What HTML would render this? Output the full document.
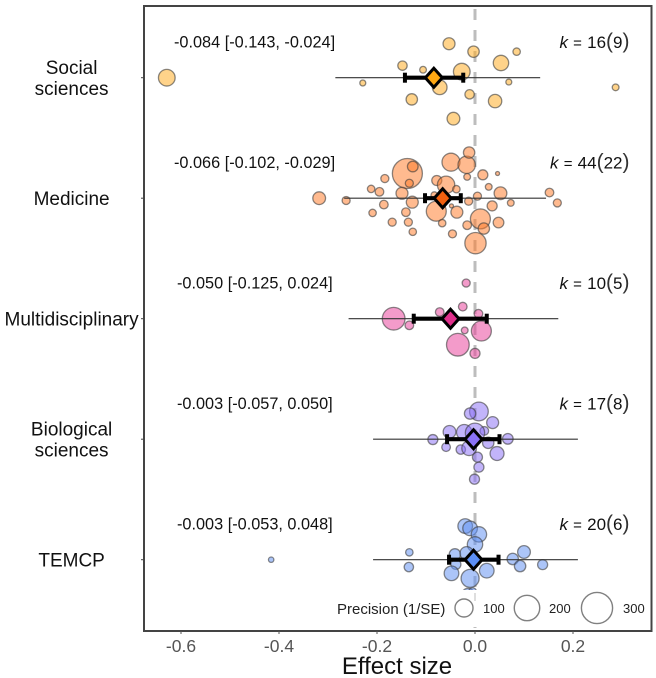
<!DOCTYPE html>
<html>
<head>
<meta charset="utf-8">
<style>
  html, body { margin: 0; padding: 0; background: #fff; }
  svg { display: block; font-family: "Liberation Sans", sans-serif; filter: blur(0.35px); }
</style>
</head>
<body>
<svg id="chart" xmlns="http://www.w3.org/2000/svg" width="656" height="678" viewBox="0 0 656 678"></svg>
<script>
const categories = ["Social sciences", "Medicine", "Multidisciplinary", "Biological sciences", "TEMCP"];
const categoryLines = [["Social", "sciences"], ["Medicine"], ["Multidisciplinary"], ["Biological", "sciences"], ["TEMCP"]];
const means = [-0.084, -0.066, -0.050, -0.003, -0.003];
const ciLow = [-0.143, -0.102, -0.125, -0.057, -0.053];
const ciHigh = [-0.024, -0.029, 0.024, 0.050, 0.048];
const piLow = [-0.285, -0.267, -0.258, -0.208, -0.208];
const piHigh = [0.133, 0.145, 0.170, 0.210, 0.210];
const kEffects = [16, 44, 10, 17, 20];
const kStudies = [9, 22, 5, 8, 6];
const ciLabels = ["-0.084 [-0.143, -0.024]", "-0.066 [-0.102, -0.029]", "-0.050 [-0.125, 0.024]", "-0.003 [-0.057, 0.050]", "-0.003 [-0.053, 0.048]"];
const xTicks = [-0.6, -0.4, -0.2, 0.0, 0.2];
const legendPrecision = [100, 200, 300];

const socialEffects = [-0.629,-0.053,-0.003,0.085,0.053,-0.148,-0.106,-0.027,-0.229,0.069,0.287,-0.072,-0.011,-0.129,0.041,-0.044];
const socialSwarm = [0,-0.282,-0.216,-0.216,-0.122,-0.100,-0.066,-0.050,0.044,0.036,0.080,0.080,0.138,0.180,0.194,0.340];
const socialPrecision = [86,44,40,17,73,27,14,86,11,11,14,66,27,40,55,50];

const medicineEffects = [-0.318,-0.263,-0.212,-0.195,-0.184,-0.138,-0.127,-0.134,-0.149,-0.128,-0.186,-0.209,-0.141,-0.169,-0.136,-0.127,-0.078,-0.059,-0.038,-0.083,-0.079,-0.048,-0.037,-0.067,-0.046,-0.049,-0.017,-0.012,-0.016,0.016,0.046,0.028,0.052,0.005,-0.013,0.035,0.073,0.152,0.168,0.011,-0.016,0.018,0.048,0.001];
const medicineSwarm = [0,0.019,-0.077,-0.053,-0.163,-0.205,-0.263,-0.124,-0.041,0.033,0.053,0.122,0.116,0.199,0.199,0.279,-0.147,-0.111,-0.075,-0.025,0.108,0.064,0.116,0.207,0.296,-0.299,-0.277,-0.379,-0.177,-0.194,-0.205,-0.094,-0.041,-0.017,0.025,0.064,0.039,-0.047,0.039,0.172,0.224,0.252,0.202,0.373];
const medicinePrecision = [50,20,17,23,20,278,35,20,44,44,23,17,23,20,20,17,31,93,17,14,123,5,44,17,20,100,93,40,14,31,5,14,50,20,20,31,14,23,20,123,23,40,35,140];

const multiEffects = [-0.018,-0.025,-0.072,0.007,-0.166,-0.134,-0.021,0.013,-0.035,0.000];
const multiSwarm = [-0.296,-0.100,-0.055,-0.041,0,0.055,0.097,0.102,0.216,0.288];
const multiPrecision = [20,23,23,23,159,23,14,123,159,31];

const bioEffects = [0.008,-0.010,0.036,-0.052,-0.022,0.019,0,-0.086,0.067,-0.059,-0.029,-0.012,0.027,0.045,0.005,0.008,-0.001];
const bioSwarm = [-0.230,-0.213,-0.138,-0.061,-0.058,-0.069,-0.053,0.003,-0.003,0.066,0.086,0.075,0.030,0.119,0.149,0.232,0.332];
const bioPrecision = [108,40,44,50,73,23,115,31,35,23,27,66,40,60,31,31,31];

const temcpEffects = [-0.416,-0.134,-0.135,-0.020,-0.010,0.008,0,-0.041,-0.039,-0.048,-0.017,-0.010,0.024,0.077,0.100,0.092,0.138,-0.014,-0.005,-0.002];
const temcpSwarm = [0,-0.061,0.061,-0.279,-0.260,-0.210,-0.127,-0.044,0.039,0.113,-0.053,0.155,0.091,-0.006,-0.064,0.053,0.041,0.293,0.266,0.313];
const temcpPrecision = [9,17,27,66,66,73,73,40,31,66,55,100,66,40,50,40,31,55,20,31];

const seriesEffects = [socialEffects, medicineEffects, multiEffects, bioEffects, temcpEffects];
const seriesSwarm = [socialSwarm, medicineSwarm, multiSwarm, bioSwarm, temcpSwarm];
const seriesPrecision = [socialPrecision, medicinePrecision, multiPrecision, bioPrecision, temcpPrecision];

const pointColors = ["#ffaa1e", "#ff7a28", "#e8409a", "#8a70f5", "#5f8ff2"];
const diamondColors = ["#ffa812", "#f2600f", "#e0308c", "#8b72f6", "#5c8ff5"];

const NS = "http://www.w3.org/2000/svg";
const svg = document.getElementById("chart");
const plot = { left: 144, right: 651.5, top: 6, bottom: 631 };

function xScale(v) { return 475 + 490 * v; }
function yScale(row) { return 77.7 + 120.5 * row; }
function radius(p) { return 0.9 * Math.sqrt(p); }

function make(tag, attrs, text, parent) {
  const el = document.createElementNS(NS, tag);
  for (const key in attrs) el.setAttribute(key, attrs[key]);
  if (text !== undefined && text !== null) el.textContent = text;
  (parent || svg).appendChild(el);
  return el;
}

const background = make("rect", { x: plot.left, y: plot.top, width: plot.right - plot.left, height: plot.bottom - plot.top, fill: "#fff" });



const zeroLine = make("line", { x1: xScale(0), x2: xScale(0), y1: 9, y2: 628, stroke: "#bdbdbd", "stroke-width": 3, "stroke-dasharray": "11 10" });



categories.forEach(function (category, i) {
  const y = yScale(i);
  const group = make("g", {});
  
  

  seriesEffects[i].forEach(function (effect, j) {
    const point = make("circle", {
      cx: xScale(effect),
      cy: y + seriesSwarm[i][j] * 120.5,
      r: radius(seriesPrecision[i][j]),
      fill: pointColors[i],
      "fill-opacity": 0.52,
      stroke: "#3c3c3c",
      "stroke-opacity": 0.6,
      "stroke-width": 1.3
    }, null, group);
    
    
  });

  const pi = make("line", { x1: xScale(piLow[i]), x2: xScale(piHigh[i]), y1: y, y2: y, stroke: "#333", "stroke-width": 1.2 }, null, group);
  
  

  const ci = make("line", { x1: xScale(ciLow[i]), x2: xScale(ciHigh[i]), y1: y, y2: y, stroke: "#000", "stroke-width": 4.2 }, null, group);
  
  

  [ciLow[i], ciHigh[i]].forEach(function (end) {
    const cap = make("line", { x1: xScale(end), x2: xScale(end), y1: y - 5, y2: y + 5, stroke: "#000", "stroke-width": 4 }, null, group);
    
    
  });

  const cx = xScale(means[i]);
  const diamond = make("polygon", {
    points: (cx - 8.5) + "," + y + " " + cx + "," + (y - 9.5) + " " + (cx + 8.5) + "," + y + " " + cx + "," + (y + 9.5),
    fill: diamondColors[i], stroke: "#000", "stroke-width": 3, "stroke-linejoin": "miter"
  }, null, group);
  
  

  const ciText = make("text", { x: i < 2 ? 174 : 177, y: y - 30, "font-size": 16.3, fill: "#111" }, ciLabels[i]);
  
  

  const kText = make("text", { x: 629.5, y: y - 29.5, "text-anchor": "end", fill: "#111", "font-size": 17 });
  
  
  make("tspan", { "font-style": "italic" }, "k", kText);
  make("tspan", { "font-size": 15, dx: 1 }, " = ", kText);
  make("tspan", { dx: 1 }, String(kEffects[i]), kText);
  make("tspan", { "font-size": 21, "font-weight": 300, fill: "#333" }, "(", kText);
  make("tspan", {}, String(kStudies[i]), kText);
  make("tspan", { "font-size": 21, "font-weight": 300, fill: "#333" }, ")", kText);

  const tick = make("line", { x1: plot.left - 3, x2: plot.left, y1: y, y2: y, stroke: "#444", "stroke-width": 1 });
  
  

  const lines = categoryLines[i];
  lines.forEach(function (line, n) {
    const label = make("text", {
      x: 71.6,
      y: y + 6.8 + (n - (lines.length - 1) / 2) * 20.8,
      "text-anchor": "middle",
      "font-size": 19,
      fill: "#111"
    }, line);
    
    
  });
});

const legendBox = make("rect", { x: 330, y: 590, width: 320, height: 37, fill: "#fff" });



const legendGap = make("line", { x1: xScale(0), x2: xScale(0), y1: 593, y2: 601, stroke: "#bdbdbd", "stroke-width": 1 });



const legendTitle = make("text", { x: 337, y: 614, "font-size": 15, fill: "#222" }, "Precision (1/SE)");



const legendCircleX = [464, 527, 597];
const legendLabelX = [483, 549, 623];
legendPrecision.forEach(function (p, i) {
  const key = make("circle", { cx: legendCircleX[i], cy: 608, r: radius(p) * 1.0, fill: "#fff", stroke: "#808080", "stroke-width": 1.4 });
  
  
  const keyLabel = make("text", { x: legendLabelX[i], y: 613, "font-size": 13, fill: "#222" }, String(p));
  
  
});

const frame = make("rect", { x: plot.left, y: plot.top, width: plot.right - plot.left, height: plot.bottom - plot.top, fill: "none", stroke: "#444", "stroke-width": 2 });



xTicks.forEach(function (t) {
  const tick = make("line", { x1: xScale(t), x2: xScale(t), y1: plot.bottom, y2: plot.bottom + 3, stroke: "#555", "stroke-width": 1 });
  
  
  const label = make("text", { x: xScale(t), y: 652, "text-anchor": "middle", "font-size": 17.5, fill: "#555" }, t.toFixed(1));
  
  
});

const xTitle = make("text", { x: 397, y: 674, "text-anchor": "middle", "font-size": 24, fill: "#111" }, "Effect size");


</script>
</body>
</html>
